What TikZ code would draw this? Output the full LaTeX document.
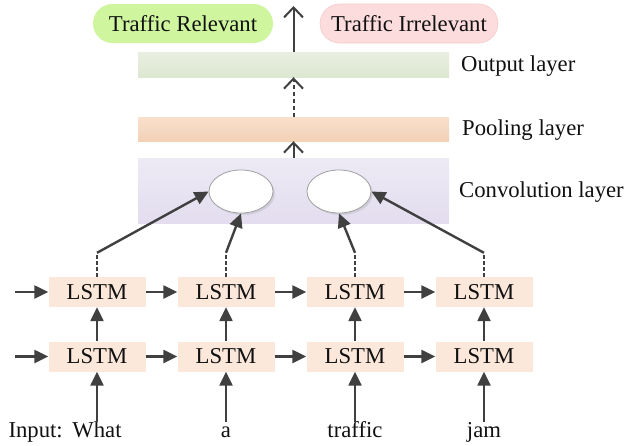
\documentclass[tikz,border=0pt]{standalone}
\usepackage{fontspec}
\setmainfont{Liberation Serif}
\usetikzlibrary{arrows.meta,shapes.geometric,shadows}
\definecolor{ink}{HTML}{404040}
\definecolor{txt}{HTML}{111111}
\definecolor{lstmfill}{HTML}{FBE8DB}
\definecolor{relfill}{HTML}{CFF59E}
\definecolor{irrfill}{HTML}{FCDCDC}
\definecolor{irrline}{HTML}{F6CACA}
\definecolor{outtop}{HTML}{E9EFE1}
\definecolor{outbot}{HTML}{DDE7D1}
\definecolor{pooltop}{HTML}{F9E0CD}
\definecolor{poolbot}{HTML}{F2D1B6}
\definecolor{convtop}{HTML}{EDEAF5}
\definecolor{convbot}{HTML}{E3DDEF}
\begin{document}
\begin{tikzpicture}[x=1pt,y=-1pt,
  font=\rmfamily\fontsize{22.7}{27}\selectfont, text=txt,
  lstm/.style={fill=lstmfill, minimum width=97pt, minimum height=30pt, inner sep=0pt},
  layerband/.style={minimum width=311pt, inner sep=0pt},
  pill/.style={rounded corners=19.5pt, minimum height=39pt, inner sep=0pt},
  arr/.style={draw=ink, line width=2.4pt, -{Triangle[length=14pt,width=13pt]}},
  openarr/.style={draw=ink, line width=2pt, -{Straight Barb[length=10pt,width=19pt,line width=2pt]}},
  dashseg/.style={draw=ink, line width=2pt, dash pattern=on 3.5pt off 2.5pt},
  word/.style={anchor=base, inner sep=0pt, text height=0.7em, text depth=0.2em},
  cell/.style={ellipse, draw=gray!75, line width=0.8pt, fill=white, minimum width=64pt, minimum height=43pt, inner sep=0pt,
    drop shadow={opacity=0.2, shadow xshift=2pt, shadow yshift=-2pt}},
  lab/.style={anchor=west, inner sep=0pt}
]
\useasboundingbox (0,0) rectangle (624,445);

% output pills
\node[pill, fill=relfill, minimum width=180pt] (rel) at (183,23.5) {Traffic Relevant};
\node[pill, fill=irrfill, draw=irrline, line width=0.6pt, minimum width=178pt] (irr) at (409,23.5) {Traffic Irrelevant};
\coordinate (top) at (293.5,6);

% layers
\node[layerband, minimum height=25pt, top color=outtop, bottom color=outbot] (out) at (293.5,64.5) {};
\node[layerband, minimum height=24pt, top color=pooltop, bottom color=poolbot] (pool) at (293.5,129) {};
\node[layerband, minimum height=65pt, top color=convtop, bottom color=convbot] (conv) at (293.5,190.5) {};

\node[lab] (outl) at (461,66) {Output layer};
\node[lab] (pooll) at (462,130.5) {Pooling layer};
\node[lab] (convl) at (459,192) {Convolution layer};

\draw[openarr] (out.north) -- (top);
\draw[openarr, dash pattern=on 4pt off 3pt] (pool.north) -- (out.south);
\draw[openarr] (conv.north) -- (pool.south);

% conv cells
\node[cell] (e1) at (241,191.5) {};
\node[cell] (e2) at (339,191.5) {};

% LSTM grid
\foreach \i/\x in {1/97,2/226,3/355,4/484}{
  \node[lstm] (t\i) at (\x,292) {LSTM};
  \node[lstm] (b\i) at (\x,356.5) {LSTM};
}
\node[word] (w1) at (97,437) {What};
\node[word] (w2) at (226,437) {a};
\node[word] (w3) at (355,437) {traffic};
\node[word] (w4) at (484,437) {jam};
\node[anchor=base east, inner sep=0pt] (inp) at (63,437) {Input:};

\coordinate (lt) at (15,292);
\coordinate (lb) at (15,356.5);
\draw[arr] (lt) -- (t1.west);
\draw[arr] (lb) -- (b1.west);
\foreach \a/\b in {1/2,2/3,3/4}{
  \draw[arr] (t\a.east) -- (t\b.west);
  \draw[arr] (b\a.east) -- (b\b.west);
}
\foreach \i in {1,2,3,4}{
  \draw[arr] (b\i.north) -- (t\i.south);
  \draw[arr] ([yshift=8pt]w\i.north) -- (b\i.south);
  \draw[dashseg] (t\i.north) -- ++(0,-24) coordinate (k\i);
}
\draw[arr] (k1) -- (e1.west);
\draw[arr] (k2) -- (e1.south);
\draw[arr] (k3) -- (e2.south);
\draw[arr] (k4) -- (e2.east);
\end{tikzpicture}
\end{document}
